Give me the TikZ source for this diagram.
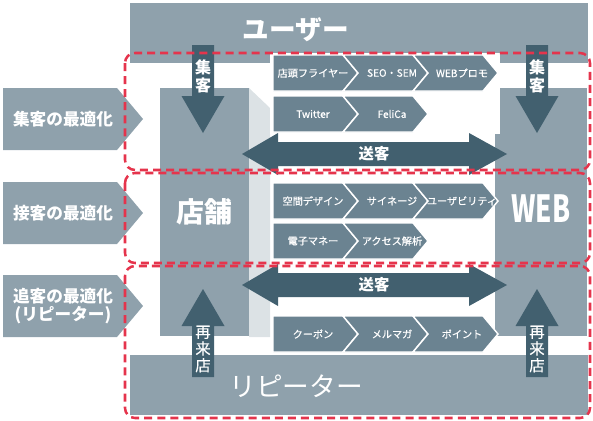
\documentclass[tikz,border=0pt]{standalone}
\usepackage{fontspec}
\setmainfont{Noto Sans CJK JP}
\newfontfamily\medfont{Noto Sans CJK JP}[FakeBold=0.6]
\definecolor{barcol}{HTML}{8FA1AC}
\definecolor{darkcol}{HTML}{42606F}
\definecolor{chevcol}{HTML}{6B8391}
\definecolor{shadecol}{HTML}{DCE2E5}
\definecolor{zonecol}{HTML}{E5344C}
\tikzset{
  bar/.style={fill=barcol},
  blockarrow/.style={fill=darkcol},
  chev/.style={fill=chevcol,draw=white,line width=1.1pt},
  zone/.style={draw=zonecol,line width=1.9pt,dash pattern=on 6pt off 3.8pt,rounded corners=7.5pt},
  wtxt/.style={text=white,inner sep=0pt,align=center},
  chtxt/.style={wtxt,font=\medfont\fontsize{7.6}{9}\selectfont},
  sidetxt/.style={wtxt,font=\bfseries\fontsize{12.5}{13}\selectfont},
  vtxt/.style={wtxt,font=\bfseries\fontsize{12}{13.5}\selectfont},
}
\begin{document}
\begin{tikzpicture}[x=0.75pt,y=-0.75pt,line join=miter]
  \useasboundingbox (0,0) rectangle (593,421);
  \fill[bar] (130,3) rectangle (588,63);
  \fill[bar] (130,355) rectangle (588,415);
  \fill[shadecol] (249,88) -- (270,108) -- (270,337) -- (249,337) -- cycle;
  \fill[bar] (160,88) rectangle (249,336);
  \fill[bar] (495,88) rectangle (587,336);
  \fill[white] (270,53) rectangle (500,134);
  \foreach \x/\y/\f/\n/\t in {273/55/0/flyer/店頭フライヤー, 343/55/15/seo/SEO・SEM, 413/55/15/promo/WEBプロモ,
      273/96/0/twitter/Twitter, 343/96/15/felica/FeliCa,
      273/183/0/space/空間デザイン, 343/183/15/signage/サイネージ, 413/183/15/usability/ユーザビリティ,
      273/223/0/emoney/電子マネー, 343/223/15/access/アクセス解析,
      273/316/0/coupon/クーポン, 343/316/15/mailmag/メルマガ, 413/316/15/point/ポイント} {
    \draw[chev] (\x,\y) -- ++(70,0) -- ++(15,18) -- ++(-15,18) -- ++(-70,0) -- ++(\f,-18) -- cycle;
    \node[chtxt] (\n) at ({\x+40+0.6*\f},{\y+18}) {\t};
  }
  \foreach \y/\n in {154/send1, 285/send2} {
    \fill[blockarrow] (242,\y) -- ++(36,-21) -- ++(0,9) -- ++(191,0) -- ++(0,-9) -- ++(38,21)
      -- ++(-38,21) -- ++(0,-9) -- ++(-191,0) -- ++(0,9) -- cycle;
    \node[wtxt,font=\bfseries\fontsize{11.5}{12}\selectfont] (\n) at (374,\y) {送客};
  }
  \foreach \c/\n in {203/gatherL, 537/gatherR} {
    \fill[blockarrow] (\c-11,45) -- (\c+11,45) -- (\c+11,96) -- (\c+21.5,96) -- (\c,133)
      -- (\c-21.5,96) -- (\c-11,96) -- cycle;
    \node[vtxt] (\n) at (\c,76) {集\\客};
  }
  \foreach \c/\n in {203/returnL, 537/returnR} {
    \fill[blockarrow] (\c-11,377) -- (\c-11,326) -- (\c-21.5,326) -- (\c,289) -- (\c+21.5,326)
      -- (\c+11,326) -- (\c+11,377) -- cycle;
    \node[vtxt,font=\medfont\fontsize{11.5}{12.5}\selectfont] (\n) at (\c,349) {再\\来\\店};
  }
  \foreach \y/\n/\t in {88/attract/集客の最適化, 182/serve/接客の最適化, 275/follow/{追客の最適化\\(リピーター)}} {
    \fill[bar] (3,\y) -- ++(114,0) -- ++(26,31) -- ++(-26,31) -- ++(-114,0) -- cycle;
    \node[sidetxt] (\n) at (63,{\y+31}) {\t};
  }
  \node[wtxt,font=\bfseries\fontsize{20}{20}\selectfont] (user) at (296,30) {ユーザー};
  \node[wtxt,font=\fontsize{20}{20}\selectfont] (repeater) at (296,386) {リピーター};
  \node[wtxt,font=\bfseries\fontsize{21}{21}\selectfont] (store) at (204,212) {店舗};
  \node[wtxt,font=\bfseries\fontsize{28}{28}\selectfont] (web) at (541,209) {\scalebox{0.7}[1]{WEB}};
  \draw[zone] (125,53) rectangle (590,170);
  \draw[zone] (125,173) rectangle (590,263);
  \draw[zone] (125,266) rectangle (590,418);
\end{tikzpicture}
\end{document}
